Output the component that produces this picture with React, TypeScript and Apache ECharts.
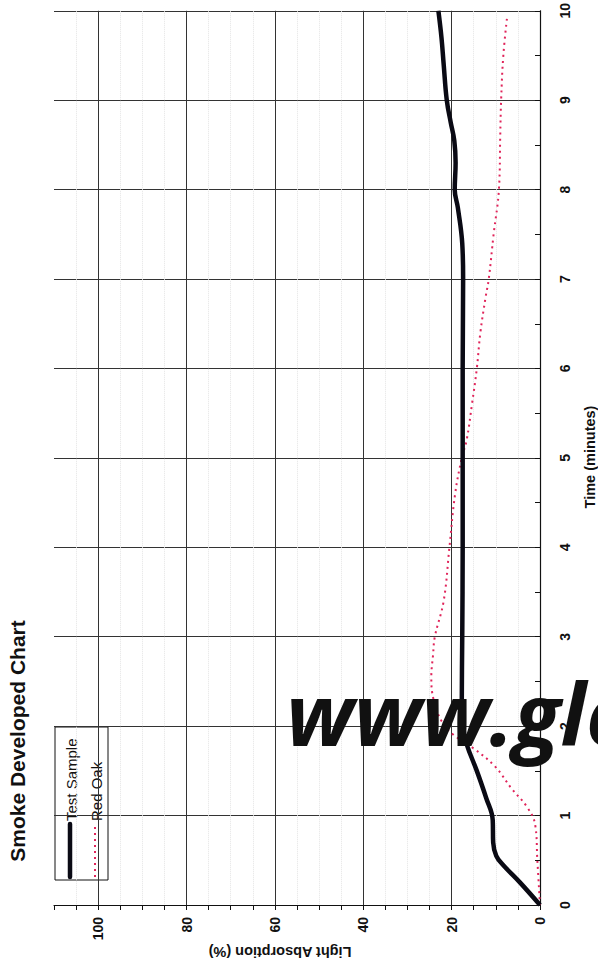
import React, { useEffect, useRef } from "react";
import * as echarts from "echarts";

const chartTitle = "Smoke Developed Chart";
const xTitle = "Light Absorption (%)";
const yTitle = "Time (minutes)";
const seriesNames = ["Test Sample", "Red Oak"];

const testTime = [0, 0.25, 0.45, 0.55, 0.7, 0.95, 1.2, 1.5, 1.8, 2.0, 2.3, 3, 4, 5, 6, 7, 7.4, 7.8, 8.0, 8.3, 8.55, 8.75, 9.0, 9.4, 9.7, 10];
const testAbs = [0, 4.5, 8.4, 9.9, 10.6, 10.7, 12.2, 14.3, 16.6, 17.4, 17.7, 17.6, 17.5, 17.5, 17.5, 17.4, 17.6, 18.6, 19.3, 19.1, 19.4, 20.2, 21.1, 21.8, 22.3, 23];

const redTime = [0, 0.5, 0.9, 1.1, 1.3, 1.55, 1.75, 1.9, 2.05, 2.3, 2.55, 2.8, 3.0, 3.4, 4.0, 4.6, 5.0, 5.2, 5.6, 6.0, 6.4, 6.8, 7.0, 7.5, 8.0, 8.6, 9.0, 9.5, 9.95];
const redAbs = [0, 0.6, 1.1, 3, 6.4, 10.2, 15, 19.5, 22.2, 24.1, 24.6, 24.2, 23.8, 21.8, 20.5, 19.2, 17.7, 16.6, 15.4, 14.3, 13.5, 12.3, 11.6, 10.5, 9.3, 9.0, 8.8, 8.3, 7.4];

const watermark = "www.glo";

export default function App() {
  const ref = useRef<HTMLDivElement>(null);
  useEffect(() => {
    document.body.style.margin = "0";
    const chart = echarts.init(ref.current!, undefined, { renderer: "svg" });
    const font = "'Liberation Sans', Arial, sans-serif";
    const testData = testTime.map((t, i) => [testAbs[i], t]);
    const redData = redTime.map((t, i) => [redAbs[i], t]);
    chart.setOption({
      animation: false,
      backgroundColor: "#fff",
      grid: { left: 54, right: 58, top: 8, bottom: 66 },
      xAxis: {
        type: "value",
        min: 0,
        max: 110,
        interval: 20,
        inverse: true,
        position: "bottom",
        axisLine: { show: true, lineStyle: { color: "#111", width: 1.2 } },
        axisTick: { show: true, length: 5, lineStyle: { color: "#111" } },
        minorTick: { show: true, splitNumber: 4, length: 5, lineStyle: { color: "#111" } },
        splitLine: { show: true, showMaxLine: false, lineStyle: { color: "#333", width: 1 } },
        minorSplitLine: { show: true, lineStyle: { color: "#e4e4e4", type: "dotted", width: 1 } },
        axisLabel: {
          rotate: 90,
          margin: 12,
          fontFamily: font,
          fontWeight: "bold",
          fontSize: 14,
          color: "#111",
          formatter: (v: number) => (v % 20 === 0 && v <= 100 ? String(v) : ""),
        },
      },
      yAxis: {
        type: "value",
        min: 0,
        max: 10,
        interval: 1,
        position: "right",
        axisLine: { show: true, lineStyle: { color: "#111", width: 1.2 } },
        axisTick: { show: true, inside: true, length: 5, lineStyle: { color: "#111" } },
        minorTick: { show: true, splitNumber: 2, length: 5, lineStyle: { color: "#111" } },
        splitLine: { show: true, lineStyle: { color: "#333", width: 1 } },
        axisLabel: {
          rotate: 90,
          margin: 18,
          fontFamily: font,
          fontWeight: "bold",
          fontSize: 14,
          color: "#111",
        },
      },
      series: [
        {
          name: seriesNames[1],
          type: "line",
          data: redData,
          smooth: 0.4,
          showSymbol: false,
          lineStyle: { color: "#e0245a", width: 2, type: [2, 4] },
          z: 3,
        },
        {
          name: seriesNames[0],
          type: "line",
          data: testData,
          smooth: 0.4,
          showSymbol: false,
          lineStyle: { color: "#0a0a14", width: 4.5 },
          z: 4,
        },
      ],
      graphic: [
        {
          type: "text",
          x: 17,
          y: 741,
          rotation: Math.PI / 2,
          style: { text: chartTitle, font: `bold 21px ${font}`, fill: "#111", align: "center", verticalAlign: "middle" },
        },
        {
          type: "text",
          x: 590,
          y: 457,
          rotation: Math.PI / 2,
          style: { text: yTitle, font: `bold 14.5px ${font}`, fill: "#111", align: "center", verticalAlign: "middle" },
        },
        {
          type: "text",
          x: 280,
          y: 952,
          rotation: Math.PI,
          style: { text: xTitle, font: `bold 14.5px ${font}`, fill: "#111", align: "center", verticalAlign: "middle" },
        },
        {
          type: "group",
          z: 50,
          children: [
            { type: "rect", shape: { x: 55, y: 727, width: 53, height: 153 }, style: { fill: "#fff", stroke: "#111", lineWidth: 1 } },
            { type: "line", shape: { x1: 70, y1: 877, x2: 70, y2: 824 }, style: { stroke: "#0a0a14", lineWidth: 4.5, lineCap: "round" } },
            { type: "line", shape: { x1: 95, y1: 877, x2: 95, y2: 824 }, style: { stroke: "#e0245a", lineWidth: 2, lineDash: [2, 4] } },
            { type: "text", x: 71, y: 821, rotation: Math.PI / 2, style: { text: seriesNames[0], font: `15px ${font}`, fill: "#111", align: "left", verticalAlign: "middle" } },
            { type: "text", x: 96, y: 821, rotation: Math.PI / 2, style: { text: seriesNames[1], font: `15px ${font}`, fill: "#111", align: "left", verticalAlign: "middle" } },
          ],
        },
        {
          type: "text",
          x: 286,
          y: 669,
          z: 100,
          style: { text: watermark, font: `italic bold 86px 'Open Sans', sans-serif`, fill: "#111", align: "left", verticalAlign: "top" },
        },
      ],
    });
    return () => chart.dispose();
  }, []);
  return <div ref={ref} style={{ width: 598, height: 971 }} />;
}
